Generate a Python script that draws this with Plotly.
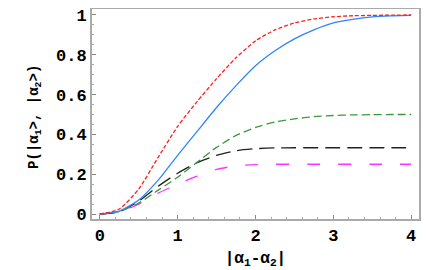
import plotly.graph_objects as go

x_vals = [0, 0.25, 0.5, 0.75, 1.0, 1.25, 1.5, 1.75, 2.0, 2.25, 2.5, 2.75, 3.0, 3.25, 3.5, 3.75, 4.0]
red_vals = [0, 0.025, 0.125, 0.285, 0.44, 0.565, 0.68, 0.785, 0.87, 0.925, 0.96, 0.98, 0.991, 0.996, 0.998, 0.999, 1.0]
blue_vals = [0, 0.015, 0.07, 0.17, 0.295, 0.415, 0.535, 0.645, 0.745, 0.82, 0.88, 0.925, 0.96, 0.978, 0.99, 0.995, 0.998]
green_vals = [0, 0.012, 0.055, 0.12, 0.185, 0.26, 0.335, 0.395, 0.435, 0.462, 0.478, 0.489, 0.495, 0.498, 0.499, 0.5, 0.5]
black_vals = [0, 0.012, 0.065, 0.14, 0.205, 0.258, 0.295, 0.318, 0.328, 0.332, 0.333, 0.333, 0.333, 0.333, 0.333, 0.333, 0.333]
magenta_vals = [0, 0.01, 0.05, 0.105, 0.15, 0.19, 0.224, 0.242, 0.248, 0.25, 0.25, 0.25, 0.25, 0.25, 0.25, 0.25, 0.25]

x_ticks = [0, 1, 2, 3, 4]
y_ticks = [0, 0.2, 0.4, 0.6, 0.8, 1]
y_tick_text = ["0", "0.2", "0.4", "0.6", "0.8", "1"]

series = [
    (magenta_vals, "#ff33ff", "13px,18px"),
    (black_vals, "#222222", "15px,7px"),
    (green_vals, "#3a9a3a", "8px,4px"),
    (blue_vals, "#2f84ff", "solid"),
    (red_vals, "#ff2020", "4px,2px"),
]

fig = go.Figure()
for vals, color, dash in series:
    fig.add_trace(go.Scatter(
        x=x_vals, y=vals, mode="lines",
        line=dict(color=color, width=1.3, dash=dash, shape="spline", smoothing=0.6),
        showlegend=False, hoverinfo="skip"))

fig.update_layout(
    width=428, height=262,
    margin=dict(l=84, r=17, t=1, b=51),
    paper_bgcolor="white", plot_bgcolor="white",
    font=dict(family="Liberation Mono", color="black"),
    xaxis=dict(
        range=[-0.1, 4.1], tickvals=x_ticks, ticktext=[str(v) for v in x_ticks],
        ticks="inside", ticklen=4, tickcolor="#888", tickwidth=1,
        showline=True, linecolor="#aaaaaa", linewidth=2, mirror=True,
        showgrid=False, zeroline=False, automargin=False,
        ticklabeloverflow="allow",
        tickfont=dict(family="Liberation Mono", size=17, color="black", weight="bold"),
        minor=dict(ticks="inside", dtick=0.2, ticklen=2, tickcolor="#aaa"),
        title=dict(text="|α<sub>1</sub>-α<sub>2</sub>|",
                   font=dict(family="Liberation Mono", size=16, color="black", weight="bold"),
                   standoff=6),
    ),
    yaxis=dict(
        range=[-0.025, 1.03], tickvals=y_ticks, ticktext=y_tick_text,
        ticks="inside", ticklen=4, tickcolor="#888", tickwidth=1,
        showline=True, linecolor="#aaaaaa", linewidth=2, mirror=True,
        showgrid=False, zeroline=False, automargin=False,
        ticklabeloverflow="allow",
        tickfont=dict(family="Liberation Mono", size=17, color="black", weight="bold"),
        minor=dict(ticks="inside", dtick=0.05, ticklen=2, tickcolor="#aaa"),
    ),
    annotations=[dict(
        text="P(|α<sub>1</sub>&gt;, |α<sub>2</sub>&gt;)",
        xref="paper", yref="paper", x=-0.175, y=0.485,
        xanchor="center", yanchor="middle", textangle=-90, showarrow=False,
        font=dict(family="Liberation Mono", size=14, color="black", weight="bold"),
    )],
)

fig.write_html("out.html")
